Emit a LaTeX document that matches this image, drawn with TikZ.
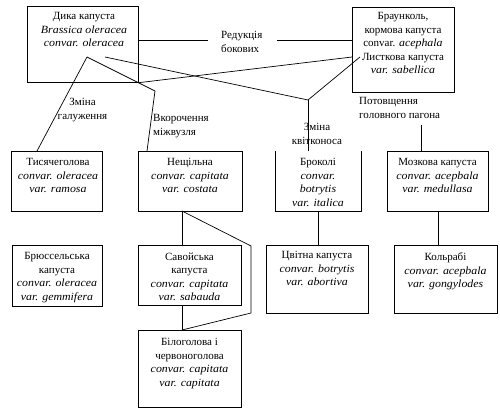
\documentclass[tikz,border=0pt]{standalone}
\usepackage{fontspec}
\setmainfont{Liberation Serif}[ItalicFeatures={FakeStretch=1.08}]
\begin{document}
\begin{tikzpicture}[x=1pt,y=-1pt,
  box/.style={draw, line width=0.7pt, inner sep=0pt, anchor=north west},
  nobox/.style={inner sep=0pt, anchor=north west},
  txt/.style={align=center, inner sep=0pt, anchor=north, font=\fontsize{11}{13.5}\selectfont},
  lbl/.style={align=left, inner sep=0pt, anchor=north west, font=\fontsize{11}{13.5}\selectfont},
  lblc/.style={align=center, inner sep=0pt, anchor=north, font=\fontsize{11}{13.5}\selectfont},
  ln/.style={line width=0.7pt}]
\useasboundingbox (0,0) rectangle (500,417);
\fill[white] (0,0) rectangle (500,417);

% boxes
\node[box, minimum width=111pt, minimum height=76pt] (wild) at (27,6) {};
\node[box, minimum width=102pt, minimum height=85pt] (brau) at (352,7) {};
\node[box, minimum width=91pt, minimum height=60pt] (tys) at (11,151) {};
\node[box, minimum width=104pt, minimum height=60pt] (nesh) at (138,151) {};
\node[nobox, minimum width=86pt, minimum height=60pt] (bro) at (275,151) {};
\draw[ln] (bro.north west) -- (bro.south west) -- (bro.south east) -- (bro.north east);
\node[box, minimum width=101pt, minimum height=60pt] (moz) at (387,151) {};
\node[box, minimum width=90pt, minimum height=61pt] (brus) at (12,245) {};
\node[box, minimum width=103pt, minimum height=60pt] (sav) at (138,245) {};
\node[box, minimum width=102pt, minimum height=68pt] (cvit) at (266,245) {};
\node[box, minimum width=103pt, minimum height=68pt] (kol) at (394,245) {};
\node[box, minimum width=103pt, minimum height=77pt] (bil) at (138,330) {};

% box texts
\node[txt] (wildt) at (84,12.5) {Дика капуста\\\textit{Brassica oleracea}\\\textit{convar. oleracea}};
\node[txt] (braut) at (403,12.5) {Браунколь,\\кормова капуста\\convar. \textit{acephala}\\Листкова капуста\\\textit{var. sabellica}};
\node[txt] (tyst) at (58,158.5) {Тисячеголова\\\textit{convar. oleracea}\\\textit{var. ramosa}};
\node[txt] (nesht) at (190,158.5) {Нещільна\\\textit{convar. capitata}\\\textit{var. costata}};
\node[txt] (brot) at (318,158.5) {Броколі\\\textit{convar.}\\\textit{botrytis}\\\textit{var. italica}};
\node[txt] (mozt) at (437.5,158.5) {Мозкова капуста\\\textit{convar. acepbala}\\\textit{var. medullasa}};
\node[txt] (brust) at (57,252.5) {Брюссельська\\капуста\\\textit{convar. oleracea}\\\textit{var. gemmifera}};
\node[txt] (savt) at (189.5,252.5) {Савойська\\капуста\\\textit{convar. capitata}\\\textit{var. sabauda}};
\node[txt] (cvitt) at (317,251.5) {Цвітна капуста\\\textit{convar. botrytis}\\\textit{var. abortiva}};
\node[txt] (kolt) at (445.5,252.5) {Кольрабі\\\textit{convar. acepbala}\\\textit{var. gongylodes}};
\node[txt] (bilt) at (189.5,338.5) {Білоголова і\\червоноголова\\\textit{convar. capitata}\\\textit{var. capitata}};

% labels
\node[lbl] (lred) at (221,31.5) {Редукція\\бокових};
\node[lblc] (lgal) at (82.5,98.5) {Зміна\\галуження};
\node[lbl] (lvk) at (153,114.5) {Вкорочення\\міжвузля};
\node[lblc] (lkv) at (317,123.5) {Зміна\\квітконоса};
\node[lbl] (lpot) at (359,97.5) {Потовщення\\головного пагона};

% helper points
\coordinate (r1) at (208,40);
\coordinate (r2) at (277,40);
\coordinate (q2) at (352,57);
\coordinate (p1) at (105,57);
\coordinate (p2) at (87,57);
\coordinate (p3) at (360,57);
\coordinate (j1) at (308,100);
\coordinate (k1) at (155,91);
\coordinate (t1) at (37,151);
\coordinate (n0) at (147,151);
\coordinate (m1) at (421,125);
\coordinate (n1) at (182,211);
\coordinate (z1) at (251,246);
\coordinate (z2) at (251,313);
\coordinate (z3) at (182,330);

% connectors
\draw[ln] (wild.east |- r1) -- (r1);
\draw[ln] (r2) -- (brau.west |- r2);
\draw[ln] (wild.south east) -- (q2);
\draw[ln] (p1) -- (j1) -- (p3);
\draw[ln] (j1) -- (j1 |- bro.north);
\draw[ln] (p2) -- (t1);
\draw[ln] (p2) -- (k1) -- (n0);
\draw[ln] (m1) -- (m1 |- moz.north);
\draw[ln] (bro.south) -- (bro.south |- cvit.north);
\draw[ln] (moz.south) -- (moz.south |- kol.north);
\draw[ln] (n1) -- (n1 |- sav.north);
\draw[ln] (n1) -- (z1) -- (z2) -- (z3);
\draw[ln] (n1 |- sav.south) -- (n1 |- bil.north);
\end{tikzpicture}
\end{document}
